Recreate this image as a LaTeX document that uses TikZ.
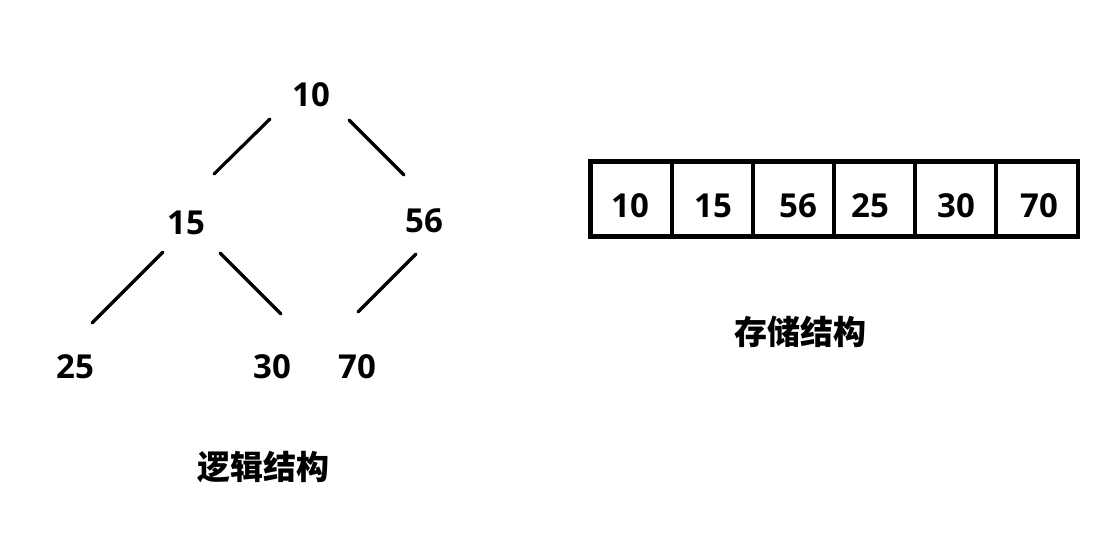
\documentclass[tikz,border=0pt]{standalone}
\usepackage{fontspec}
\setmainfont{Open Sans}
\newfontfamily\cjk{Noto Sans CJK SC}
\begin{document}
\begin{tikzpicture}[x=1pt,y=-1pt,
  num/.style={font=\fontsize{33}{33}\selectfont\bfseries, inner sep=0pt, anchor=base},
  lbl/.style={font=\fontsize{33}{33}\selectfont\cjk\bfseries, inner sep=0pt, anchor=center},
  edge/.style={line width=3.2pt, line cap=round},
  cellbox/.style={draw, line width=4.5pt}]
\useasboundingbox[fill=white] (0,0) rectangle (1094,538);
% tree
\node[num] (n10) at (311,106) {10};
\node[num] (n15) at (186,234) {15};
\node[num] (n56) at (424,232) {56};
\node[num] (n25) at (75,378) {25};
\node[num] (n30) at (272,378) {30};
\node[num] (n70) at (357,378) {70};
\coordinate (a1) at (270,119); \coordinate (a2) at (214,174);
\coordinate (b1) at (349,120); \coordinate (b2) at (404,175);
\coordinate (c1) at (163,252); \coordinate (c2) at (92,323);
\coordinate (d1) at (220,253); \coordinate (d2) at (281,314);
\coordinate (e1) at (416,254); \coordinate (e2) at (358,312);
\draw[edge] (a1) -- (a2);
\draw[edge] (b1) -- (b2);
\draw[edge] (c1) -- (c2);
\draw[edge] (d1) -- (d2);
\draw[edge] (e1) -- (e2);
\node[lbl] (logic) at (263,467) {逻辑结构};
% array
\coordinate (tl) at (590.5,161.5);
\coordinate (br) at (1078,236.5);
\draw[cellbox] (tl) rectangle (br);
\foreach \x in {672,753,834,915,996} {
  \draw[cellbox] (\x,161.5) -- (\x,236.5);
}
\node[num] (s1) at (630,217) {10};
\node[num] (s2) at (713,217) {15};
\node[num] (s3) at (798,217) {56};
\node[num] (s4) at (870,217) {25};
\node[num] (s5) at (956,217) {30};
\node[num] (s6) at (1039,217) {70};
\node[lbl] (store) at (800,332) {存储结构};
\end{tikzpicture}
\end{document}
